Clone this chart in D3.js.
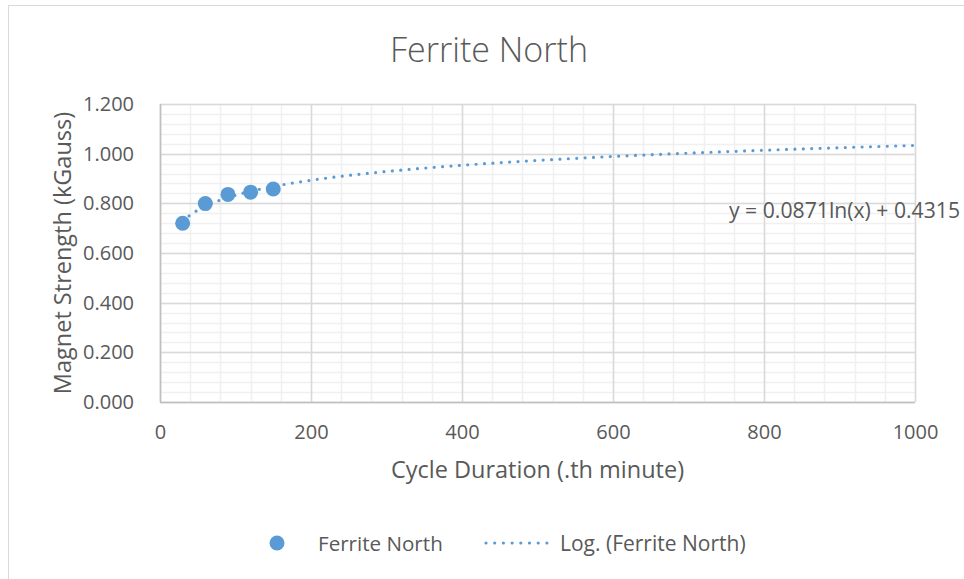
<!DOCTYPE html>
<html>
<head>
<meta charset="utf-8">
<script src="https://cdn.jsdelivr.net/npm/d3@7"></script>
<style>
  html, body { margin: 0; padding: 0; background: #fff; }
  svg text { font-family: "Open Sans", "Noto Sans", sans-serif; fill: #595959; }
</style>
</head>
<body>
<svg id="chart" width="964" height="579"></svg>
<script>
// Measured magnet strength per cycle duration
const cycleMinutes = [30, 60, 90, 120, 150];
const strengthKG = [0.720, 0.799, 0.836, 0.845, 0.858];

// Logarithmic trend: y = a ln(x) + b
const trendCoef = [0.0871, 0.4315];
const trendRange = [30, 1000];

const xTicks = [0, 200, 400, 600, 800, 1000];
const yTicks = [0, 0.2, 0.4, 0.6, 0.8, 1.0, 1.2];

const chartTitle = "Ferrite North";
const xTitle = "Cycle Duration (.th minute)";
const yTitle = "Magnet Strength (kGauss)";
const seriesName = "Ferrite North";
const trendName = "Log. (Ferrite North)";

const blue = "#5b9bd5";
const svg = d3.select("#chart");

// outer chart frame
svg.append("rect")
  .attr("x", 8.5).attr("y", 5.5).attr("width", 970).attr("height", 600)
  .attr("fill", "#fff").attr("stroke", "#d9d9d9").attr("stroke-width", 1);

const plot = { left: 160, right: 915, top: 104, bottom: 402 };
const x = d3.scaleLinear().domain([0, 1000]).range([plot.left, plot.right]);
const y = d3.scaleLinear().domain([0, 1.2]).range([plot.bottom, plot.top]);

// minor grid
const g = svg.append("g");
g.selectAll(".vminor").data(d3.range(0, 1001, 40)).join("line")
  .attr("x1", d => Math.round(x(d)) + 0.5).attr("x2", d => Math.round(x(d)) + 0.5)
  .attr("y1", plot.top).attr("y2", plot.bottom)
  .attr("stroke", "#f0f0f0").attr("stroke-width", 1.5);
g.selectAll(".hminor").data(d3.range(0, 31).map(i => i * 0.04)).join("line")
  .attr("x1", plot.left).attr("x2", plot.right)
  .attr("y1", d => Math.round(y(d)) + 0.5).attr("y2", d => Math.round(y(d)) + 0.5)
  .attr("stroke", "#f0f0f0").attr("stroke-width", 1.5);

// major grid
g.selectAll(".vmajor").data(xTicks).join("line")
  .attr("x1", d => Math.round(x(d)) + 0.5).attr("x2", d => Math.round(x(d)) + 0.5)
  .attr("y1", plot.top).attr("y2", plot.bottom)
  .attr("stroke", "#d9d9d9").attr("stroke-width", 1.5);
g.selectAll(".hmajor").data(yTicks).join("line")
  .attr("x1", plot.left).attr("x2", plot.right)
  .attr("y1", d => Math.round(y(d)) + 0.5).attr("y2", d => Math.round(y(d)) + 0.5)
  .attr("stroke", "#d9d9d9").attr("stroke-width", 1.5);

// axis lines
g.append("line").attr("x1", plot.left + 0.5).attr("x2", plot.left + 0.5)
  .attr("y1", plot.top).attr("y2", plot.bottom + 0.5)
  .attr("stroke", "#bfbfbf").attr("stroke-width", 1.5);
g.append("line").attr("x1", plot.left).attr("x2", plot.right)
  .attr("y1", plot.bottom + 0.5).attr("y2", plot.bottom + 0.5)
  .attr("stroke", "#bfbfbf").attr("stroke-width", 1.5);

// axes (labels only)
const xAxis = svg.append("g").attr("transform", `translate(0,${plot.bottom})`)
  .call(d3.axisBottom(x).tickValues(xTicks).tickFormat(d3.format("d")).tickSize(0).tickPadding(23));
const yAxis = svg.append("g").attr("transform", `translate(${plot.left},0)`)
  .call(d3.axisLeft(y).tickValues(yTicks).tickFormat(d3.format(".3f")).tickSize(0).tickPadding(26));
[xAxis, yAxis].forEach(a => {
  a.select(".domain").remove();
  a.selectAll("text").attr("font-size", 20).attr("fill", "#595959")
    .attr("font-family", '"Open Sans", sans-serif');
});

// trendline
const trendX = d3.range(trendRange[0], trendRange[1] + 0.5, 2);
const line = d3.line().x(d => x(d)).y(d => y(trendCoef[0] * Math.log(d) + trendCoef[1]));
svg.append("path").datum(trendX).attr("d", line)
  .attr("fill", "none").attr("stroke", blue).attr("stroke-width", 3.2)
  .attr("stroke-linecap", "round").attr("stroke-dasharray", "0 8.4");

// data points
svg.selectAll(".pt").data(cycleMinutes).join("circle")
  .attr("cx", d => x(d)).attr("cy", (d, i) => y(strengthKG[i])).attr("r", 7.5)
  .attr("fill", blue);

// trend equation
svg.append("text").attr("x", 729).attr("y", 218).attr("font-size", 21.2)
  .text(`y = ${trendCoef[0]}ln(x) + ${trendCoef[1]}`);

// titles
svg.append("text").attr("x", 489).attr("y", 62).attr("text-anchor", "middle")
  .attr("font-size", 34).attr("font-weight", 300).text(chartTitle);
svg.append("text").attr("x", (plot.left + plot.right) / 2).attr("y", 478)
  .attr("text-anchor", "middle").attr("font-size", 23.5).text(xTitle);
svg.append("text").attr("transform", `translate(71,${(plot.top + plot.bottom) / 2}) rotate(-90)`)
  .attr("text-anchor", "middle").attr("font-size", 23.5).text(yTitle);

// legend
const lg = svg.append("g");
lg.append("circle").attr("cx", 277).attr("cy", 543).attr("r", 7.5).attr("fill", blue);
lg.append("text").attr("x", 318).attr("y", 551).attr("font-size", 20.6).text(seriesName);
lg.append("line").attr("x1", 486).attr("x2", 547).attr("y1", 543).attr("y2", 543)
  .attr("stroke", blue).attr("stroke-width", 3.2).attr("stroke-linecap", "round")
  .attr("stroke-dasharray", "0 8.7");
lg.append("text").attr("x", 560).attr("y", 551).attr("font-size", 21).text(trendName);
</script>
</body>
</html>
